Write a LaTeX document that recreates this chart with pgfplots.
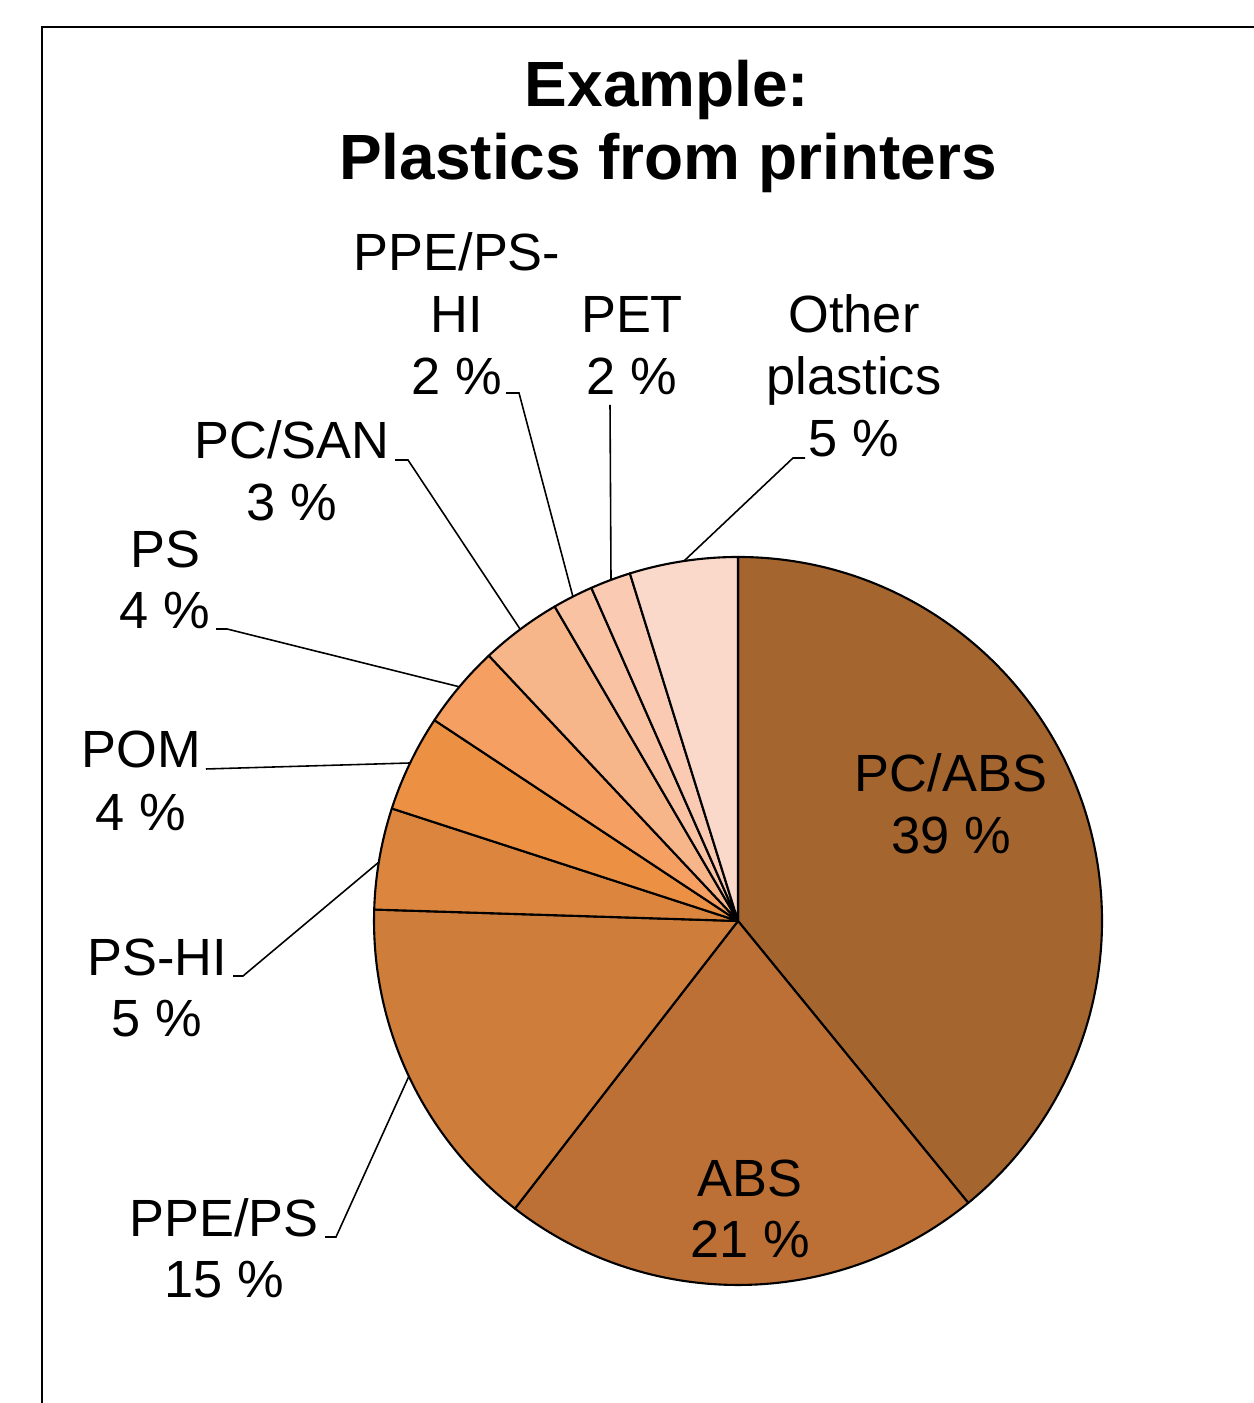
\documentclass[border=0pt]{standalone}
\usepackage{fontspec}
\setmainfont{Liberation Sans}
\usepackage{pgfplots}
\pgfplotsset{compat=1.18}
\definecolor{cPCABS}{RGB}{165,101,47}
\definecolor{cABS}{RGB}{188,112,53}
\definecolor{cPPEPS}{RGB}{207,125,59}
\definecolor{cPSHI}{RGB}{220,133,63}
\definecolor{cPOM}{RGB}{236,145,67}
\definecolor{cPS}{RGB}{245,160,98}
\definecolor{cPCSAN}{RGB}{247,181,138}
\definecolor{cPPEPSHI}{RGB}{249,194,162}
\definecolor{cPET}{RGB}{250,203,178}
\definecolor{cOther}{RGB}{250,217,203}
\tikzset{
  lab/.style={font=\fontsize{14.9}{17.6}\selectfont,anchor=base,inner sep=0pt},
  ttl/.style={font=\fontsize{18.2}{20.8}\selectfont\bfseries,anchor=base,inner sep=0pt},
  lead/.style={black,line width=0.45pt}}
\newcommand\slice[3]{\filldraw[fill=#3,draw=black,line width=0.6pt,line join=round]
  (axis cs:738,482) -- ++(#1:36.4mm) arc[start angle=#1,end angle=#2,radius=36.4mm] -- cycle;}
\begin{document}
\begin{tikzpicture}
\useasboundingbox (0,0) rectangle (125.4mm,140.3mm);
% shares in percent, clockwise from 12 o'clock
\def\vA{39.1}% PC/ABS
\def\vB{21.4}% ABS
\def\vC{15.0}% PPE/PS
\def\vD{4.5}%  PS-HI
\def\vE{4.3}%  POM
\def\vF{3.7}%  PS
\def\vG{3.6}%  PC/SAN
\def\vH{1.8}%  PPE/PS-HI
\def\vI{1.8}%  PET
\def\vJ{4.8}%  Other plastics
\pgfmathsetmacro\aA{90}
\pgfmathsetmacro\aB{\aA-3.6*\vA}
\pgfmathsetmacro\aC{\aB-3.6*\vB}
\pgfmathsetmacro\aD{\aC-3.6*\vC}
\pgfmathsetmacro\aE{\aD-3.6*\vD}
\pgfmathsetmacro\aF{\aE-3.6*\vE}
\pgfmathsetmacro\aG{\aF-3.6*\vF}
\pgfmathsetmacro\aH{\aG-3.6*\vG}
\pgfmathsetmacro\aI{\aH-3.6*\vH}
\pgfmathsetmacro\aJ{\aI-3.6*\vI}
\pgfmathsetmacro\aK{\aJ-3.6*\vJ}
\begin{axis}[at={(0,0)},anchor=south west,x=0.1mm,y=0.1mm,
  xmin=0,xmax=1254,ymin=0,ymax=1403,hide axis,clip=false]
% frame
\addplot[black,line width=0.6pt,mark=none] coordinates {(42,-20) (42,1376) (1280,1376)};
% slices
\slice{\aA}{\aB}{cPCABS}
\slice{\aB}{\aC}{cABS}
\slice{\aC}{\aD}{cPPEPS}
\slice{\aD}{\aE}{cPSHI}
\slice{\aE}{\aF}{cPOM}
\slice{\aF}{\aG}{cPS}
\slice{\aG}{\aH}{cPCSAN}
\slice{\aH}{\aI}{cPPEPSHI}
\slice{\aI}{\aJ}{cPET}
\slice{\aJ}{\aK}{cOther}
% leader lines
\addplot[lead,mark=none] coordinates {(805,945) (793,945) (684,842)};
\addplot[lead,mark=none] coordinates {(610,998) (611,823)};
\addplot[lead,mark=none] coordinates {(506,1010) (519,1010) (573,806)};
\addplot[lead,mark=none] coordinates {(395,943) (408,943) (520,774)};
\addplot[lead,mark=none] coordinates {(216,774) (227,774) (460,716)};
\addplot[lead,mark=none] coordinates {(206,634) (410,640)};
\addplot[lead,mark=none] coordinates {(233,427) (243,427) (379,541)};
\addplot[lead,mark=none] coordinates {(325,166) (336,166) (409,327)};
% title
\node[ttl] at (axis cs:667,1296) {Example:};
\node[ttl] at (axis cs:668,1223) {Plastics from printers};
% labels
\node[lab] at (axis cs:951,611) {PC/ABS};
\node[lab] at (axis cs:951,549) {39 \%};
\node[lab] at (axis cs:750,206) {ABS};
\node[lab] at (axis cs:750,145) {21 \%};
\node[lab] at (axis cs:224,166) {PPE/PS};
\node[lab] at (axis cs:224,105) {15 \%};
\node[lab] at (axis cs:157,427) {PS-HI};
\node[lab] at (axis cs:157,366) {5 \%};
\node[lab] at (axis cs:141,635) {POM};
\node[lab] at (axis cs:141,572) {4 \%};
\node[lab] at (axis cs:165,835) {PS};
\node[lab] at (axis cs:165,774) {4 \%};
\node[lab] at (axis cs:292,944) {PC/SAN};
\node[lab] at (axis cs:292,882) {3 \%};
\node[lab] at (axis cs:457,1132) {PPE/PS-};
\node[lab] at (axis cs:457,1070) {HI};
\node[lab] at (axis cs:457,1008) {2 \%};
\node[lab] at (axis cs:632,1070) {PET};
\node[lab] at (axis cs:632,1008) {2 \%};
\node[lab] at (axis cs:854,1070) {Other};
\node[lab] at (axis cs:854,1008) {plastics};
\node[lab] at (axis cs:854,946) {5 \%};
\end{axis}
\end{tikzpicture}
\end{document}
